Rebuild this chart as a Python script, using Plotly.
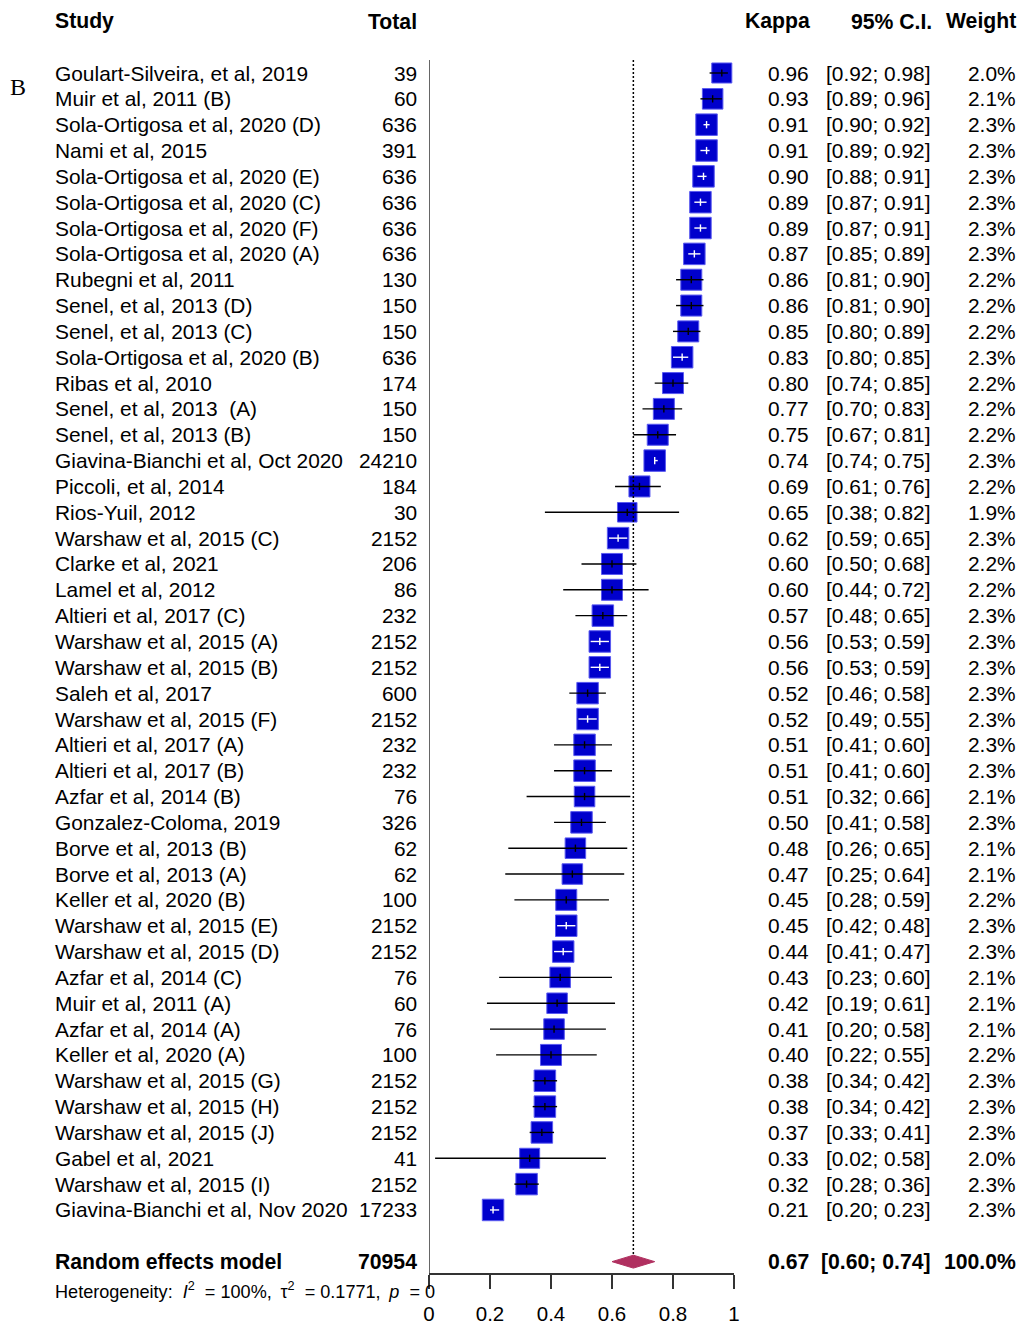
import plotly.graph_objects as go

studies = [
    "Goulart-Silveira, et al, 2019", "Muir et al, 2011 (B)", "Sola-Ortigosa et al, 2020 (D)",
    "Nami et al, 2015", "Sola-Ortigosa et al, 2020 (E)", "Sola-Ortigosa et al, 2020 (C)",
    "Sola-Ortigosa et al, 2020 (F)", "Sola-Ortigosa et al, 2020 (A)", "Rubegni et al, 2011",
    "Senel, et al, 2013 (D)", "Senel, et al, 2013 (C)", "Sola-Ortigosa et al, 2020 (B)",
    "Ribas et al, 2010", "Senel, et al, 2013  (A)", "Senel, et al, 2013 (B)",
    "Giavina-Bianchi et al, Oct 2020", "Piccoli, et al, 2014", "Rios-Yuil, 2012",
    "Warshaw et al, 2015 (C)", "Clarke et al, 2021", "Lamel et al, 2012",
    "Altieri et al, 2017 (C)", "Warshaw et al, 2015 (A)", "Warshaw et al, 2015 (B)",
    "Saleh et al, 2017", "Warshaw et al, 2015 (F)", "Altieri et al, 2017 (A)",
    "Altieri et al, 2017 (B)", "Azfar et al, 2014 (B)", "Gonzalez-Coloma, 2019",
    "Borve et al, 2013 (B)", "Borve et al, 2013 (A)", "Keller et al, 2020 (B)",
    "Warshaw et al, 2015 (E)", "Warshaw et al, 2015 (D)", "Azfar et al, 2014 (C)",
    "Muir et al, 2011 (A)", "Azfar et al, 2014 (A)", "Keller et al, 2020 (A)",
    "Warshaw et al, 2015 (G)", "Warshaw et al, 2015 (H)", "Warshaw et al, 2015 (J)",
    "Gabel et al, 2021", "Warshaw et al, 2015 (I)", "Giavina-Bianchi et al, Nov 2020",
]
totals = [39, 60, 636, 391, 636, 636, 636, 636, 130, 150, 150, 636, 174, 150, 150,
          24210, 184, 30, 2152, 206, 86, 232, 2152, 2152, 600, 2152, 232, 232, 76, 326,
          62, 62, 100, 2152, 2152, 76, 60, 76, 100, 2152, 2152, 2152, 41, 2152, 17233]
kappa = [0.96, 0.93, 0.91, 0.91, 0.90, 0.89, 0.89, 0.87, 0.86, 0.86, 0.85, 0.83, 0.80,
         0.77, 0.75, 0.74, 0.69, 0.65, 0.62, 0.60, 0.60, 0.57, 0.56, 0.56, 0.52, 0.52,
         0.51, 0.51, 0.51, 0.50, 0.48, 0.47, 0.45, 0.45, 0.44, 0.43, 0.42, 0.41, 0.40,
         0.38, 0.38, 0.37, 0.33, 0.32, 0.21]
ci_low = [0.92, 0.89, 0.90, 0.89, 0.88, 0.87, 0.87, 0.85, 0.81, 0.81, 0.80, 0.80, 0.74,
          0.70, 0.67, 0.74, 0.61, 0.38, 0.59, 0.50, 0.44, 0.48, 0.53, 0.53, 0.46, 0.49,
          0.41, 0.41, 0.32, 0.41, 0.26, 0.25, 0.28, 0.42, 0.41, 0.23, 0.19, 0.20, 0.22,
          0.34, 0.34, 0.33, 0.02, 0.28, 0.20]
ci_high = [0.98, 0.96, 0.92, 0.92, 0.91, 0.91, 0.91, 0.89, 0.90, 0.90, 0.89, 0.85, 0.85,
           0.83, 0.81, 0.75, 0.76, 0.82, 0.65, 0.68, 0.72, 0.65, 0.59, 0.59, 0.58, 0.55,
           0.60, 0.60, 0.66, 0.58, 0.65, 0.64, 0.59, 0.48, 0.47, 0.60, 0.61, 0.58, 0.55,
           0.42, 0.42, 0.41, 0.58, 0.36, 0.23]
weights = [2.0, 2.1, 2.3, 2.3, 2.3, 2.3, 2.3, 2.3, 2.2, 2.2, 2.2, 2.3, 2.2, 2.2, 2.2,
           2.3, 2.2, 1.9, 2.3, 2.2, 2.2, 2.3, 2.3, 2.3, 2.3, 2.3, 2.3, 2.3, 2.1, 2.3,
           2.1, 2.1, 2.2, 2.3, 2.3, 2.1, 2.1, 2.1, 2.2, 2.3, 2.3, 2.3, 2.0, 2.3, 2.3]

pooled_label = "Random effects model"
pooled_total = 70954
pooled_k, pooled_low, pooled_high, pooled_w = 0.67, 0.60, 0.74, 100.0
het_i2, het_tau2, het_p = "100%", "0.1771", "0"

headers = ["Study", "Total", "Kappa", "95% C.I.", "Weight"]
tick_vals = [0, 0.2, 0.4, 0.6, 0.8, 1]
tick_text = ["0", "0.2", "0.4", "0.6", "0.8", "1"]

# ---------------- geometry ----------------
W, H = 1019, 1324
ROW0_PX, ROW_STEP = 73.0, 25.84
AXIS_PX = 1273.0
X0_PX, X1_PX = 429.0, 734.0
px_per_unit = X1_PX - X0_PX
y_top = -ROW0_PX / ROW_STEP
y_bot = (AXIS_PX - ROW0_PX) / ROW_STEP
n = len(studies)
rows = list(range(n))
pooled_row = n + 1
header_row = -2

FONT = "Liberation Sans, Arial, sans-serif"
FS = 20.9
FS_BOLD = 21.2
BLUE = "#0000CC"
MAROON = "#B03060"
NB = "\u00a0"
THIN = "\u2009"


def px(xp):
    return xp / W


def paper_y(row):
    return 1 - (ROW0_PX + row * ROW_STEP) / H


sizes = [21.5 * (w / 2.3) ** 0.5 for w in weights]

fig = go.Figure()

# squares
fig.add_trace(go.Scatter(
    x=kappa, y=rows, mode="markers",
    marker=dict(symbol="square", size=sizes, color=BLUE, opacity=1,
                line=dict(color="#5a5af0", width=1)),
    hoverinfo="skip", showlegend=False))

# CI lines
bx, by, wx, wy = [], [], [], []
tick_h = 0.14
for i, (k, lo, hi, s) in enumerate(zip(kappa, ci_low, ci_high, sizes)):
    hw = s / 2 / px_per_unit
    inside = lo >= k - hw and hi <= k + hw
    xs, ys = (wx, wy) if inside else (bx, by)
    xs += [lo, hi, None, k, k, None]
    ys += [i, i, None, i - tick_h, i + tick_h, None]
fig.add_trace(go.Scatter(x=bx, y=by, mode="lines", line=dict(color="black", width=1.4),
                         hoverinfo="skip", showlegend=False))
fig.add_trace(go.Scatter(x=wx, y=wy, mode="lines", line=dict(color="white", width=1.4),
                         hoverinfo="skip", showlegend=False))

# diamond
dh = 0.25
fig.add_trace(go.Scatter(
    x=[pooled_low, pooled_k, pooled_high, pooled_k, pooled_low],
    y=[pooled_row, pooled_row - dh, pooled_row, pooled_row + dh, pooled_row],
    mode="lines", fill="toself", fillcolor=MAROON, line=dict(color=MAROON, width=1),
    hoverinfo="skip", showlegend=False))

shapes = [
    dict(type="line", xref="x", yref="y", x0=pooled_k, x1=pooled_k, y0=-0.5,
         y1=pooled_row - dh, line=dict(color="black", width=1.5, dash="2px,2px")),
    dict(type="line", xref="x", yref="y", x0=0, x1=0, y0=-0.5, y1=y_bot,
         line=dict(color="#333333", width=1.5)),
]

ann = []


def add_text(text, xpx, row, anchor, bold=False, size=None, family=FONT, yp=None):
    if size is None:
        size = FS_BOLD if bold else FS
    ann.append(dict(
        text=f"<b>{text}</b>" if bold else text,
        x=px(xpx), xref="paper", y=paper_y(row) if yp is None else yp, yref="paper",
        xanchor=anchor, yanchor="middle", showarrow=False,
        borderpad=0, borderwidth=0,
        font=dict(family=family, size=size, color="black")))


# headers
add_text(headers[0], 55, header_row, "left", bold=True)
add_text(headers[1], 417, header_row, "right", bold=True)
add_text(headers[2], 810, header_row, "right", bold=True)
add_text(headers[3], 932, header_row, "right", bold=True)
add_text(headers[4], 1016, header_row, "right", bold=True)

for i in rows:
    add_text(studies[i], 55, i, "left")
    add_text(str(totals[i]), 417, i, "right")
    add_text(f"{kappa[i]:.2f}", 809, i, "right")
    add_text(f"[{ci_low[i]:.2f}; {ci_high[i]:.2f}]", 931, i, "right")
    add_text(f"{weights[i]:.1f}%", 1016, i, "right")

add_text(pooled_label, 55, pooled_row, "left", bold=True)
add_text(str(pooled_total), 417, pooled_row, "right", bold=True)
add_text(f"{pooled_k:.2f}", 809, pooled_row, "right", bold=True)
add_text(f"[{pooled_low:.2f}; {pooled_high:.2f}]", 931, pooled_row, "right", bold=True)
add_text(f"{pooled_w:.1f}%", 1016, pooled_row, "right", bold=True)

het = (f"Heterogeneity:{NB}{NB}<i>I</i><sup>2</sup>{NB}{NB}={NB}{het_i2},{THIN}{NB}τ<sup>2</sup>"
       f"{NB}{NB}={NB}{het_tau2},{THIN}{NB}<i>p</i>{NB}{NB}={NB}{het_p}")
add_text(het, 55, None, "left", size=18.1, yp=1 - 1290 / H)

add_text("B", 18, None, "center", size=24, family="Liberation Serif, Times New Roman, serif",
         yp=1 - 87 / H)

fig.update_layout(
    width=W, height=H, margin=dict(l=0, r=0, t=0, b=0, pad=0, autoexpand=False),
    paper_bgcolor="white", plot_bgcolor="white",
    shapes=shapes, annotations=ann, showlegend=False,
    xaxis=dict(domain=[X0_PX / W, X1_PX / W], range=[0, 1], showgrid=False, zeroline=False,
               automargin=False,
               showline=True, linecolor="#333333", linewidth=1.5,
               ticks="outside", ticklen=14, tickwidth=1.5, tickcolor="#333333",
               tickvals=tick_vals, ticktext=tick_text, ticklabelstandoff=8,
               tickfont=dict(family=FONT, size=20.5, color="black")),
    yaxis=dict(domain=[1 - AXIS_PX / H, 1], range=[y_bot, y_top], visible=False,
               automargin=False, showgrid=False, zeroline=False),
)

fig.write_html(
    "out.html",
    config={"displayModeBar": False},
    post_script="document.body.style.margin='0px';document.body.style.overflow='hidden';",
)
